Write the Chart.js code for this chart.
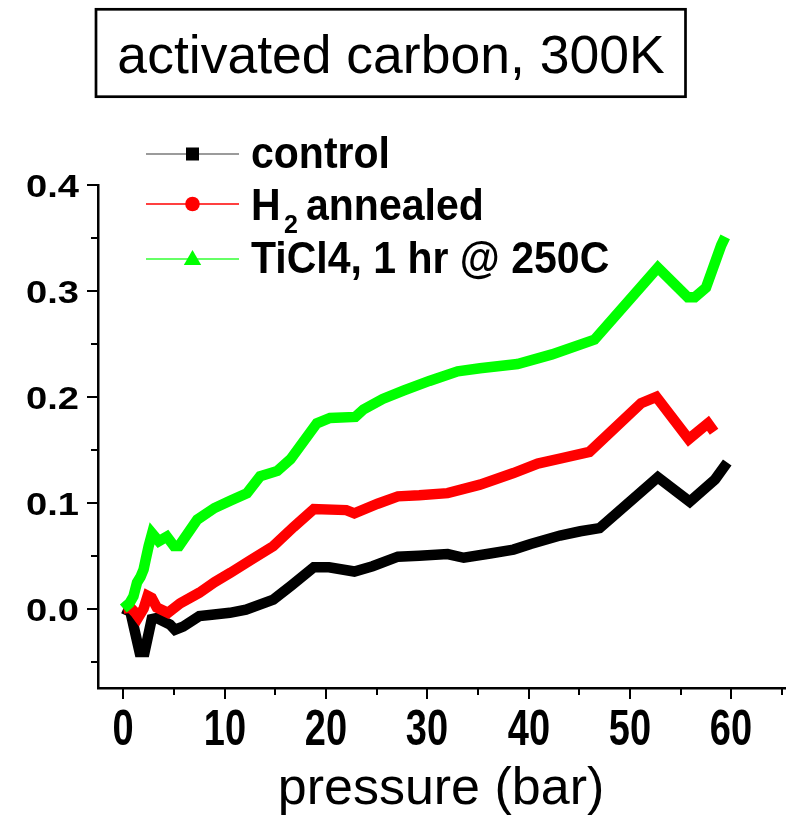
<!DOCTYPE html>
<html><head><meta charset="utf-8">
<script src="https://cdn.jsdelivr.net/npm/chart.js@4.4.1/dist/chart.umd.min.js"></script>
<style>html,body{margin:0;padding:0;background:#fff;}#wrap{position:relative;width:786px;height:817px;}canvas{display:block}</style>
</head><body><div id="wrap"><canvas id="c" width="786" height="817"></canvas></div>
<script>
const titleText = 'activated carbon, 300K';
const xTitle = 'pressure (bar)';
const seriesNames = ['control', 'H', 'TiCl4, 1 hr @ 250C'];
const xTickValues = [0, 5, 10, 15, 20, 25, 30, 35, 40, 45, 50, 55, 60, 65];
const xTickLabels = ['0', '', '10', '', '20', '', '30', '', '40', '', '50', '', '60', ''];
const yTickValues = [-0.05, 0, 0.05, 0.1, 0.15, 0.2, 0.25, 0.3, 0.35, 0.4];
const yTickLabels = ['', '0.0', '', '0.1', '', '0.2', '', '0.3', '', '0.4'];

const controlP = [0, 0.7, 1.1, 1.6, 2.1, 2.8, 3.3, 4.6, 5.1, 5.9, 7.5, 8.5, 10.5, 12.1, 14.8, 16.6, 18.8, 20.3, 22.8, 24.6, 27.1, 29.2, 32.0, 33.6, 36.2, 38.5, 40.2, 43.1, 45.1, 47.0, 52.75, 55.9, 58.4, 59.6];
const controlV = [0, -0.003, -0.02, -0.041, -0.041, -0.010, -0.009, -0.015, -0.020, -0.017, -0.007, -0.006, -0.004, -0.001, 0.0085, 0.022, 0.039, 0.039, 0.035, 0.040, 0.049, 0.050, 0.0515, 0.048, 0.052, 0.0557, 0.061, 0.069, 0.073, 0.076, 0.124, 0.101, 0.122, 0.138];

const h2P = [0, 0.7, 1.2, 1.5, 2.0, 2.4, 2.8, 3.3, 4.4, 5.6, 7.5, 9.0, 10.6, 12.6, 14.8, 16.8, 18.8, 22.0, 22.8, 25.1, 27.1, 29.2, 32.0, 35.2, 38.5, 40.9, 43.3, 46.0, 51.1, 52.6, 55.8, 57.7, 58.3];
const h2V = [0, 0.001, -0.004, -0.008, 0.0, 0.012, 0.010, 0.001, -0.004, 0.005, 0.015, 0.025, 0.034, 0.046, 0.059, 0.077, 0.094, 0.093, 0.090, 0.099, 0.106, 0.107, 0.109, 0.117, 0.128, 0.137, 0.142, 0.148, 0.194, 0.200, 0.160, 0.175, 0.167];

const ticlP = [0, 0.6, 1.0, 1.35, 1.7, 2.0, 2.2, 2.5, 2.84, 3.5, 4.3, 5.0, 5.5, 7.3, 9.0, 10.6, 12.2, 13.5, 15.2, 16.5, 19.1, 20.4, 22.9, 23.7, 25.6, 27.7, 30.2, 33.0, 35.2, 38.9, 42.3, 46.5, 52.75, 55.7, 56.4, 57.5, 59.0, 59.4];
const ticlV = [0, 0.005, 0.0116, 0.0245, 0.030, 0.037, 0.046, 0.059, 0.071, 0.0635, 0.068, 0.059, 0.059, 0.084, 0.095, 0.102, 0.109, 0.125, 0.130, 0.141, 0.175, 0.180, 0.181, 0.188, 0.198, 0.206, 0.215, 0.224, 0.227, 0.231, 0.240, 0.254, 0.322, 0.294, 0.294, 0.303, 0.343, 0.351];

const toXY = (p, v) => p.map((x, i) => ({x: x, y: v[i]}));
const FONT = '"Liberation Sans", Arial, sans-serif';

function sText(ctx, text, x, y, font, sx, sy, align) {
  ctx.save();
  ctx.translate(x, y);
  ctx.scale(sx, sy);
  ctx.font = font;
  ctx.textAlign = align;
  ctx.textBaseline = 'alphabetic';
  ctx.fillText(text, 0, 0);
  ctx.restore();
}

const deco = {
  id: 'deco',
  afterDraw(chart) {
    const ctx = chart.ctx, xs = chart.scales.x, ys = chart.scales.y, a = chart.chartArea;
    ctx.save();
    ctx.fillStyle = '#000';
    ctx.strokeStyle = '#000';
    ctx.lineWidth = 2;
    xTickValues.forEach((v, i) => {
      const px = Math.round(xs.getPixelForValue(v));
      const major = xTickLabels[i] !== '';
      ctx.beginPath(); ctx.moveTo(px, a.bottom); ctx.lineTo(px, a.bottom + (major ? 11 : 7)); ctx.stroke();
      if (major) sText(ctx, xTickLabels[i], px, 745, 'bold 38px ' + FONT, 1, 1.29, 'center');
    });
    yTickValues.forEach((v, i) => {
      const py = Math.round(ys.getPixelForValue(v));
      const major = yTickLabels[i] !== '';
      ctx.beginPath(); ctx.moveTo(a.left, py); ctx.lineTo(a.left - (major ? 11 : 7), py); ctx.stroke();
      if (major) sText(ctx, yTickLabels[i], 79, py + 11.5, 'bold 32px ' + FONT, 1.19, 1, 'right');
    });
    sText(ctx, xTitle, 441, 804, '52px ' + FONT, 1, 1, 'center');
    ctx.lineWidth = 2.7;
    ctx.strokeRect(96, 9.3, 589.5, 87.4);
    sText(ctx, titleText, 391, 73, '53.5px ' + FONT, 1, 1, 'center');
    const lx0 = 146, lx1 = 239, mx = 192.5;
    const rows = [154, 204, 259];
    ctx.lineWidth = 1.5;
    ctx.strokeStyle = '#7a7a7a';
    ctx.beginPath(); ctx.moveTo(lx0, rows[0]); ctx.lineTo(lx1, rows[0]); ctx.stroke();
    ctx.fillStyle = '#000';
    ctx.fillRect(mx - 6.5, rows[0] - 6.5, 13, 13);
    ctx.strokeStyle = '#ff0000';
    ctx.beginPath(); ctx.moveTo(lx0, rows[1]); ctx.lineTo(lx1, rows[1]); ctx.stroke();
    ctx.fillStyle = '#ff0000';
    ctx.beginPath(); ctx.arc(mx, rows[1], 7.3, 0, Math.PI * 2); ctx.fill();
    ctx.strokeStyle = '#33ff33';
    ctx.beginPath(); ctx.moveTo(lx0, rows[2]); ctx.lineTo(lx1, rows[2]); ctx.stroke();
    ctx.fillStyle = '#00ff00';
    ctx.beginPath(); ctx.moveTo(mx, rows[2] - 9); ctx.lineTo(mx + 8.7, rows[2] + 6); ctx.lineTo(mx - 8.7, rows[2] + 6); ctx.closePath(); ctx.fill();
    ctx.fillStyle = '#000';
    const lf = 'bold 41px ' + FONT;
    sText(ctx, seriesNames[0], 251, 168, lf, 1, 1.07, 'left');
    sText(ctx, seriesNames[1], 251, 220, lf, 1, 1.07, 'left');
    sText(ctx, '2', 284, 233, 'bold 25px ' + FONT, 1, 1, 'left');
    sText(ctx, 'annealed', 306, 220, lf, 1, 1.07, 'left');
    sText(ctx, seriesNames[2], 251, 273, lf, 1, 1.07, 'left');
    ctx.restore();
  }
};

const ds = (label, p, v, color, order) => ({
  label: label, data: toXY(p, v), borderColor: color, backgroundColor: color,
  borderWidth: 10.5, pointRadius: 0, tension: 0, fill: false, order: order,
  borderJoinStyle: 'miter', borderCapStyle: 'butt'
});

new Chart(document.getElementById('c'), {
  type: 'line',
  data: {
    datasets: [
      ds('control', controlP, controlV, '#000000', 3),
      ds('H2 annealed', h2P, h2V, '#ff0000', 2),
      ds('TiCl4, 1 hr @ 250C', ticlP, ticlV, '#00ff00', 1)
    ]
  },
  options: {
    responsive: false, animation: false, devicePixelRatio: 1,
    layout: {padding: {top: 185, right: 1, left: 0, bottom: 0}},
    plugins: {legend: {display: false}, tooltip: {enabled: false}, title: {display: false}},
    scales: {
      x: {
        type: 'linear', min: -2.5, max: 65.3,
        ticks: {display: false},
        grid: {drawOnChartArea: false, drawTicks: false},
        border: {display: true, color: '#000', width: 2.5},
        afterFit(s) { s.height = 129; }
      },
      y: {
        type: 'linear', min: -0.075, max: 0.4,
        ticks: {display: false},
        grid: {drawOnChartArea: false, drawTicks: false},
        border: {display: true, color: '#000', width: 2.5},
        afterFit(s) { s.width = 98; }
      }
    }
  },
  plugins: [deco]
});
</script></body></html>
